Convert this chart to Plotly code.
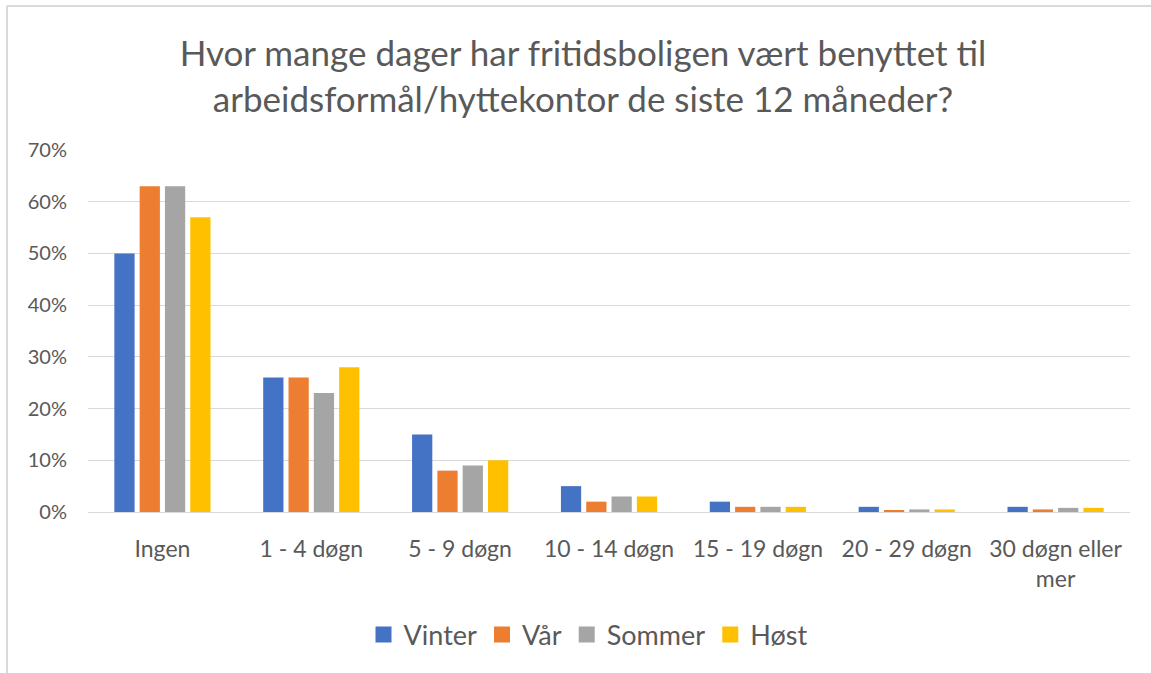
import plotly.graph_objects as go

categories = ["Ingen", "1 - 4 døgn", "5 - 9 døgn", "10 - 14 døgn", "15 - 19 døgn", "20 - 29 døgn", "30 døgn eller<br>mer"]
vinter = [0.50, 0.26, 0.15, 0.05, 0.02, 0.010, 0.010]
vaar = [0.63, 0.26, 0.08, 0.02, 0.01, 0.002, 0.005]
sommer = [0.63, 0.23, 0.09, 0.03, 0.01, 0.005, 0.008]
hoest = [0.57, 0.28, 0.10, 0.03, 0.01, 0.005, 0.008]
series = [("Vinter", vinter, "#4472C4"), ("Vår", vaar, "#ED7D31"),
          ("Sommer", sommer, "#A5A5A5"), ("Høst", hoest, "#FFC000")]
y_ticks = [0, 0.1, 0.2, 0.3, 0.4, 0.5, 0.6, 0.7]
y_ticklabels = ["0%", "10%", "20%", "30%", "40%", "50%", "60%", "70%"]

FONT = "Lato"
GREY = "#595959"

fig = go.Figure()
for name, vals, col in series:
    fig.add_trace(go.Bar(x=categories, y=vals, name=name, marker_color=col,
                         marker_line_width=0, legendgroup=name, showlegend=False))
# legend entries with larger square swatches
for name, vals, col in series:
    fig.add_trace(go.Scatter(x=[None], y=[None], mode="markers", name=name,
                             legendgroup=name,
                             marker=dict(symbol="square", size=16, color=col)))

W, H = 1151, 673
L, R, T, B = 88, 21, 150, 161
pw = W - L - R
ph = H - T - B

fig.update_layout(
    width=W, height=H,
    margin=dict(l=L, r=R, t=T, b=B),
    paper_bgcolor="white", plot_bgcolor="white",
    barmode="group", bargap=0.32, bargroupgap=0.2,
    font=dict(family=FONT, color=GREY, size=20),
    title=dict(text="Hvor mange dager har fritidsboligen vært benyttet til<br>arbeidsformål/hyttekontor de siste 12 måneder?",
               font=dict(family=FONT, size=35, color=GREY),
               x=583 / W, xanchor="center", xref="container",
               y=1 - 66 / H, yanchor="middle", yref="container"),
    legend=dict(orientation="h", x=588 / W, xanchor="center", xref="container",
                y=1 - 635 / H, yanchor="middle", yref="container",
                font=dict(family=FONT, size=27, color=GREY),
                itemwidth=30, traceorder="normal"),
    showlegend=True,
)
fig.update_yaxes(range=[0, 0.7], tickvals=y_ticks, ticktext=y_ticklabels,
                 showgrid=True, gridcolor="#D9D9D9", gridwidth=1,
                 zeroline=False, showline=False, ticks="", ticklen=0,
                 ticklabelstandoff=20,
                 tickfont=dict(family=FONT, size=20, color=GREY))
fig.update_xaxes(showgrid=False, showline=True, linecolor="#D9D9D9", linewidth=1,
                 ticks="", ticklabelstandoff=16,
                 tickfont=dict(family=FONT, size=23, color=GREY))

# chart border (top and left edges)
x_left = (7 - L) / pw
y_top = 1 + (T - 6) / ph
fig.add_shape(type="line", xref="paper", yref="paper", x0=x_left, x1=(W + 5 - L) / pw,
              y0=y_top, y1=y_top, line=dict(color="#D9D9D9", width=2))
fig.add_shape(type="line", xref="paper", yref="paper", x0=x_left, x1=x_left,
              y0=y_top, y1=-(B + 5) / ph, line=dict(color="#D9D9D9", width=2))

fig.write_html("out.html", config={"displayModeBar": False},
               post_script="document.body.style.margin='0';document.body.style.overflow='hidden';")
